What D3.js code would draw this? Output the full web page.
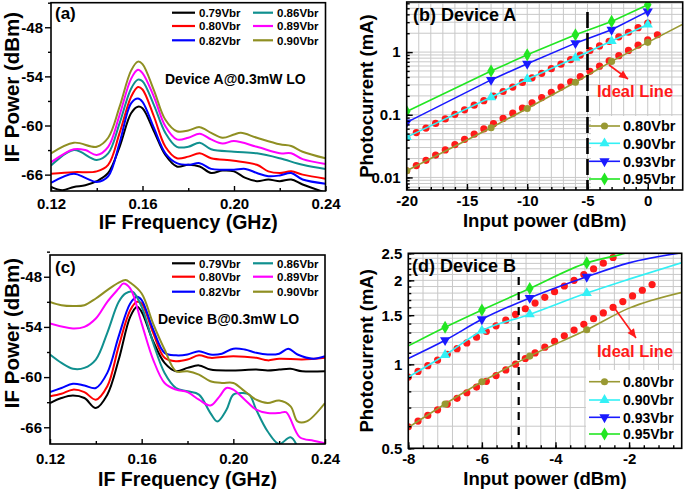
<!DOCTYPE html>
<html><head><meta charset="utf-8">
<script src="https://cdn.jsdelivr.net/npm/d3@7"></script>
<style>
body{margin:0;background:#fff}
svg{display:block;font-family:"Liberation Sans",Arial,Helvetica,sans-serif;font-weight:bold}
</style></head>
<body><svg id="c" width="685" height="489"></svg>
<script>
// ---------------- DATA ----------------
const ifLabels = ["0.79Vbr","0.80Vbr","0.82Vbr","0.86Vbr","0.89Vbr","0.90Vbr"];
const ifColors = ["#000000","#ff0000","#0000ff","#10908f","#ff00ff","#8f8f22"];
const ifXTicks = [0.12,0.16,0.20,0.24];
const ifXMinor = [0.14,0.18,0.22];
const ifYTicks = [-48,-54,-60,-66];
const ifYMinor = [-45,-51,-57,-63];

// Panel (a) – Device A  [freq GHz, IF power dBm]
const a079 = [[0.12,-67.5],[0.125,-67.9],[0.13,-67.5],[0.135,-67.3],[0.14,-66.8],[0.145,-65.8],[0.15,-62.6],[0.155,-58.5],[0.158,-57.7],[0.16,-57.9],[0.165,-60.7],[0.17,-63.6],[0.175,-65.0],[0.18,-64.8],[0.185,-65.0],[0.19,-65.8],[0.195,-65.5],[0.2,-65.6],[0.205,-66.4],[0.21,-66.8],[0.215,-66.6],[0.22,-66.8],[0.225,-66.6],[0.23,-67.2],[0.24,-68.2]];
const a080 = [[0.12,-65.9],[0.13,-65.7],[0.14,-65.6],[0.145,-64.8],[0.15,-60.9],[0.155,-56.5],[0.158,-55.3],[0.16,-55.6],[0.165,-58.9],[0.17,-62.6],[0.175,-64.0],[0.18,-63.8],[0.185,-63.4],[0.19,-64.0],[0.2,-64.3],[0.21,-64.8],[0.215,-65.6],[0.22,-65.8],[0.225,-65.6],[0.23,-66.0],[0.24,-66.5]];
const a082 = [[0.12,-67.0],[0.13,-65.9],[0.135,-66.4],[0.14,-66.9],[0.145,-66.2],[0.15,-62.1],[0.155,-57.3],[0.158,-56.7],[0.16,-57.1],[0.165,-60.3],[0.17,-63.4],[0.175,-64.6],[0.18,-64.8],[0.185,-64.6],[0.19,-65.3],[0.195,-65.4],[0.2,-65.4],[0.205,-65.3],[0.21,-65.8],[0.215,-66.2],[0.22,-66.1],[0.225,-65.8],[0.23,-66.6],[0.24,-67.1]];
const a086 = [[0.12,-64.9],[0.13,-63.0],[0.14,-64.2],[0.145,-63.4],[0.15,-59.7],[0.155,-55.5],[0.158,-54.4],[0.16,-54.6],[0.165,-57.5],[0.17,-60.9],[0.175,-62.6],[0.18,-62.6],[0.185,-62.1],[0.19,-62.9],[0.2,-63.2],[0.21,-63.4],[0.22,-64.0],[0.23,-64.8],[0.24,-65.3]];
const a089 = [[0.12,-64.5],[0.13,-62.9],[0.135,-63.0],[0.14,-63.6],[0.145,-62.6],[0.15,-58.7],[0.155,-54.3],[0.158,-53.2],[0.16,-53.6],[0.165,-56.5],[0.17,-60.1],[0.175,-61.7],[0.18,-61.5],[0.185,-61.0],[0.19,-61.7],[0.195,-62.2],[0.2,-61.9],[0.21,-62.6],[0.22,-63.4],[0.225,-63.4],[0.23,-64.1],[0.24,-64.7]];
const a090 = [[0.12,-63.4],[0.13,-62.1],[0.14,-62.6],[0.145,-61.5],[0.15,-57.7],[0.155,-53.3],[0.158,-52.2],[0.16,-52.5],[0.165,-55.7],[0.17,-59.3],[0.175,-60.7],[0.18,-60.6],[0.185,-60.2],[0.19,-60.9],[0.195,-61.5],[0.2,-61.1],[0.203,-60.9],[0.21,-61.5],[0.22,-62.3],[0.225,-62.5],[0.23,-63.2],[0.24,-64.0]];

// Panel (c) – Device B
const c079 = [[0.12,-63.1],[0.125,-62.5],[0.13,-62.2],[0.135,-62.5],[0.14,-63.7],[0.145,-62.1],[0.15,-57.9],[0.155,-52.8],[0.158,-51.6],[0.16,-52.2],[0.165,-55.7],[0.17,-58.3],[0.175,-59.3],[0.18,-58.9],[0.185,-58.6],[0.19,-59.1],[0.2,-59.2],[0.21,-59.1],[0.215,-59.2],[0.22,-59.1],[0.225,-59.0],[0.23,-59.3],[0.24,-59.3]];
const c080 = [[0.12,-62.3],[0.125,-62.0],[0.13,-61.5],[0.135,-61.8],[0.14,-62.7],[0.145,-61.1],[0.15,-56.3],[0.155,-52.0],[0.158,-51.0],[0.16,-51.2],[0.165,-54.7],[0.17,-57.7],[0.175,-58.1],[0.18,-57.9],[0.185,-57.4],[0.19,-57.7],[0.2,-57.5],[0.21,-57.7],[0.215,-58.0],[0.22,-57.8],[0.23,-57.9],[0.24,-57.7]];
const c082 = [[0.12,-61.8],[0.125,-61.3],[0.13,-60.8],[0.135,-61.0],[0.14,-61.3],[0.145,-59.5],[0.15,-55.1],[0.155,-51.2],[0.158,-50.4],[0.16,-50.8],[0.165,-54.3],[0.17,-57.1],[0.175,-57.4],[0.18,-57.3],[0.185,-56.9],[0.19,-57.3],[0.195,-57.2],[0.2,-56.6],[0.205,-56.7],[0.21,-57.1],[0.215,-57.3],[0.22,-57.2],[0.224,-56.6],[0.228,-57.3],[0.235,-57.8],[0.24,-57.5]];
const c086 = [[0.12,-57.3],[0.125,-58.3],[0.13,-59.0],[0.135,-58.9],[0.14,-57.9],[0.145,-54.7],[0.15,-51.0],[0.153,-50.0],[0.156,-49.8],[0.16,-51.6],[0.165,-55.9],[0.17,-59.5],[0.175,-61.3],[0.18,-61.7],[0.185,-62.1],[0.19,-64.3],[0.193,-65.3],[0.197,-63.9],[0.2,-62.1],[0.204,-61.9],[0.207,-62.1],[0.21,-63.9],[0.215,-66.5],[0.22,-68.0],[0.225,-67.2],[0.23,-69.0],[0.24,-70.0]];
const c089 = [[0.12,-53.6],[0.13,-54.2],[0.135,-54.0],[0.14,-53.0],[0.145,-51.0],[0.15,-49.4],[0.152,-48.8],[0.155,-49.4],[0.16,-53.6],[0.165,-57.9],[0.17,-60.7],[0.175,-61.5],[0.18,-61.8],[0.185,-62.7],[0.19,-63.4],[0.194,-62.3],[0.197,-61.3],[0.2,-61.5],[0.205,-62.7],[0.21,-63.9],[0.215,-64.3],[0.22,-64.3],[0.223,-64.2],[0.229,-67.2],[0.235,-67.6],[0.24,-67.9]];
const c090 = [[0.12,-51.0],[0.125,-51.4],[0.13,-51.5],[0.135,-51.4],[0.14,-50.6],[0.145,-49.6],[0.15,-48.7],[0.153,-48.4],[0.155,-48.7],[0.16,-50.0],[0.165,-53.6],[0.17,-56.7],[0.175,-59.3],[0.18,-59.3],[0.185,-59.7],[0.19,-60.5],[0.195,-60.7],[0.2,-60.7],[0.205,-61.7],[0.21,-62.7],[0.215,-63.1],[0.22,-62.8],[0.225,-63.5],[0.228,-65.3],[0.232,-65.3],[0.24,-63.1]];

// Photocurrent panels
const pcLabels = ["0.80Vbr","0.90Vbr","0.93Vbr","0.95Vbr"];
const pcColors = ["#999933","#33f0f5","#1a1aff","#22e622"];
const pcSymbols = ["circle","up","down","diamond"];
const idealColor = "#ff1a1a";

// Panel (b) – Device A  (input power dBm, photocurrent mA)
const bX    = [-20,-13,-10,-6,-3,0];
const b080X = [-20,-13,-10,-6,-3,0,3];
const b080  = [0.0128,0.062,0.126,0.33,0.71,1.43,2.85];
const b090  = [0.044,0.19,0.37,0.81,1.5,2.75];
const b093  = [0.0755,0.36,0.65,1.39,2.27,4.46];
const b095  = [0.113,0.50,0.905,1.89,3.09,5.69];
const bIdealUpX = [-20,-19.2,-18.4,-17.6,-16.8,-16,-15.2,-14.4,-13.6,-12.8,-12,-11.2,-10.4,-9.6,-8.8,-8,-7.2,-6.4,-5.6,-4.8,-4,-3.2,-2.4,-1.6,-0.8,0];
const bIdealUp  = [0.0439,0.0519,0.0614,0.0726,0.0859,0.1015,0.120,0.142,0.168,0.198,0.235,0.277,0.328,0.388,0.459,0.543,0.642,0.759,0.897,1.061,1.254,1.483,1.754,2.074,2.453,2.901];
const bIdealLoX = [-20,-19.2,-18.4,-17.6,-16.8,-16,-15.2,-14.4,-13.6,-12.8,-12,-11.2,-10.4,-9.6,-8.8,-8,-7.2,-6.4,-5.6,-4.8,-4,-3.2,-2.4,-1.6,-0.8,0,0.8];
const bIdealLo  = [0.01277,0.01547,0.01875,0.0227,0.0275,0.0334,0.0405,0.0490,0.0594,0.0720,0.0873,0.1058,0.128,0.155,0.188,0.228,0.277,0.335,0.406,0.493,0.597,0.724,0.877,1.063,1.288,1.561,1.892];
const bXTicks = [-20,-15,-10,-5,0];
const bYTicks = [0.01,0.1,1];

// Panel (d) – Device B
const dX     = [-8,-7,-6,-4.7,-3.15,-2,-0.5];
const dMarked= [false,true,true,true,true,false,false];
const d080   = [0.594,0.721,0.866,1.07,1.33,1.59,1.82];
const d090   = [0.90,1.08,1.32,1.51,1.80,2.02,2.33];
const d093   = [1.05,1.22,1.45,1.73,2.06,2.31,2.52];
const d095   = [1.164,1.358,1.566,1.87,2.31,2.52,2.95];
const dIdealX  = [-8,-7.735,-7.47,-7.205,-6.94,-6.675,-6.41,-6.145,-5.88,-5.615,-5.35,-5.085,-4.82,-4.555,-4.29,-4.025,-3.76,-3.495,-3.23,-2.965,-2.7,-2.435,-2.17,-1.905,-1.64,-1.375];
const dIdealLo = [0.597,0.626,0.656,0.687,0.720,0.755,0.791,0.829,0.869,0.911,0.955,1.001,1.049,1.099,1.152,1.208,1.266,1.327,1.391,1.457,1.528,1.601,1.678,1.759,1.843,1.932];
const dIdealUp = [0.900,0.943,0.989,1.036,1.086,1.138,1.193,1.251,1.311,1.374,1.440,1.509,1.582,1.658,1.738,1.821,1.909,2.001,2.097,2.198,2.304,2.415];
const dXTicks = [-8,-6,-4,-2];
const dYTicks = [0.5,1,1.5,2,2.5];

// ---------------- DRAW ----------------
const svg = d3.select("#c");
let clipN = 0;
function clip(x0,y0,x1,y1){
  const id = "clp"+(clipN++);
  svg.append("clipPath").attr("id",id).append("rect")
    .attr("x",x0).attr("y",y0).attr("width",x1-x0).attr("height",y1-y0);
  return "url(#"+id+")";
}
function styleAxis(g, fs){
  g.select(".domain").remove();
  g.selectAll("line").attr("stroke","#000").attr("stroke-width",1.4);
  g.selectAll("text").attr("fill","#000").attr("font-size",fs).attr("font-weight","bold")
   .attr("font-family","Liberation Sans, Arial, sans-serif");
}
function frame(x0,y0,x1,y1){
  svg.append("rect").attr("x",x0).attr("y",y0).attr("width",x1-x0).attr("height",y1-y0)
    .attr("fill","none").attr("stroke","#000").attr("stroke-width",1.6);
}
function txt(x,y,s,fs,opt={}){
  const t = svg.append("text").attr("x",x).attr("y",y).text(s).attr("font-size",fs)
    .attr("fill",opt.fill||"#000");
  if(opt.anchor) t.attr("text-anchor",opt.anchor);
  if(opt.rot) t.attr("transform",`rotate(-90,${x},${y})`);
  return t;
}

function ifPanel(o){
  const x = d3.scaleLinear().domain([0.12,0.24]).range([o.l,o.r]);
  const y = d3.scaleLinear().domain(o.ydom).range([o.b,o.t]);
  const cp = clip(o.l,o.t,o.r,o.b);
  const line = d3.line().x(d=>x(d[0])).y(d=>y(d[1])).curve(d3.curveCatmullRom.alpha(0.5));
  const gL = svg.append("g").attr("clip-path",cp);
  o.series.forEach((s,i)=>{
    gL.append("path").attr("d",line(s)).attr("fill","none")
      .attr("stroke",ifColors[i]).attr("stroke-width",2).attr("stroke-linejoin","round");
  });
  svg.append("g").attr("transform",`translate(0,${o.b})`)
    .call(d3.axisBottom(x).tickValues(ifXTicks).tickSize(-5).tickPadding(o.xpad).tickFormat(d3.format(".2f")))
    .call(g=>styleAxis(g,15));
  svg.append("g").attr("transform",`translate(0,${o.b})`)
    .call(d3.axisBottom(x).tickValues(ifXMinor).tickSize(-3).tickFormat(""))
    .call(g=>styleAxis(g,15));
  svg.append("g").attr("transform",`translate(${o.l},0)`)
    .call(d3.axisLeft(y).tickValues(ifYTicks).tickSize(6).tickPadding(2).tickFormat(d=>String(d)))
    .call(g=>styleAxis(g,15));
  svg.append("g").attr("transform",`translate(${o.l},0)`)
    .call(d3.axisLeft(y).tickValues(ifYMinor).tickSize(3).tickFormat(""))
    .call(g=>styleAxis(g,15));
  frame(o.l,o.t,o.r,o.b);
  // legend
  ifLabels.forEach((lab,i)=>{
    const col = Math.floor(i/3), row = i%3;
    const ly = o.legY[row];
    const lx0 = col? 253:172, lx1 = col? 273:195, tx = col? 277:199;
    svg.append("line").attr("x1",lx0).attr("x2",lx1).attr("y1",ly).attr("y2",ly)
      .attr("stroke",ifColors[i]).attr("stroke-width",2.2);
    txt(tx,ly+4.2,lab,11.5);
  });
  txt(55,o.tagY,o.tag,17);
  txt(o.devX,o.devY,o.dev,14);
  txt((o.l+o.r)/2,o.xtY,"IF Frequency (GHz)",19.5,{anchor:"middle"});
  txt(19,o.ytC,"IF Power (dBm)",20.5,{anchor:"middle",rot:true});
}

ifPanel({l:51,r:325.5,t:2.7,b:191,ydom:[-68,-45],series:[a079,a080,a082,a086,a089,a090],
  xpad:7.5,legY:[12.7,26,40.3],tag:"(a)",tagY:19,dev:"Device A@0.3mW LO",devX:165,devY:84,xtY:229,ytC:87});
ifPanel({l:50,r:325,t:255,b:444,ydom:[-68,-45.4],series:[c079,c080,c082,c086,c089,c090],
  xpad:9,legY:[263.3,276.7,291.7],tag:"(c)",tagY:273,dev:"Device B@0.3mW LO",devX:158,devY:324,xtY:486,ytC:333});

function sym(type){
  if(type==="circle") return d3.symbol().type(d3.symbolCircle).size(40)();
  if(type==="diamond") return d3.symbol().type(d3.symbolDiamond).size(50)();
  return d3.symbol().type(d3.symbolTriangle).size(45)();
}
function drawMarker(g,px,py,type,color){
  g.append("path").attr("d",sym(type)).attr("fill",color)
    .attr("transform",`translate(${px},${py})`+(type==="down"?" rotate(180)":""));
}

function pcPanel(o){
  const x = d3.scaleLinear().domain(o.xdom).range([o.l,o.r]);
  const y = d3.scaleLog().domain(o.ydom).range([o.b,o.t]);
  // grid
  const gg = svg.append("g");
  o.xGrid.forEach(v=>{ gg.append("line").attr("x1",x(v)).attr("x2",x(v)).attr("y1",o.t).attr("y2",o.b)
      .attr("stroke","#c8c8c8").attr("stroke-width",1); });
  o.yGrid.forEach(v=>{ gg.append("line").attr("x1",o.l).attr("x2",o.r).attr("y1",y(v)).attr("y2",y(v))
      .attr("stroke","#c8c8c8").attr("stroke-width",1); });
  const cp = clip(o.l,o.t,o.r,o.b);
  const gD = svg.append("g").attr("clip-path",cp);
  // ideal dots
  o.ideal.forEach(([xs,ys])=>{
    xs.forEach((v,i)=>{ gD.append("circle").attr("cx",x(v)).attr("cy",y(ys[i])).attr("r",3.6).attr("fill",idealColor); });
  });
  // series
  const line = d3.line().x(d=>x(d[0])).y(d=>y(d[1])).curve(o.curve);
  o.series.forEach((s,k)=>{
    const pts = s.x.map((v,i)=>[v,s.y[i]]);
    gD.append("path").attr("d",line(pts)).attr("fill","none").attr("stroke",pcColors[k]).attr("stroke-width",1.6);
    pts.forEach((p,i)=>{ if(s.mark(i,p[0])) drawMarker(gD,x(p[0]),y(p[1]),pcSymbols[k],pcColors[k]); });
  });
  // legend background
  svg.append("rect").attr("x",o.legBox[0]).attr("y",o.legBox[1]).attr("width",o.legBox[2]).attr("height",o.legBox[3]).attr("fill","#fff");
  // dashed line
  svg.append("line").attr("x1",x(-5)).attr("x2",x(-5)).attr("y1",o.dashTop).attr("y2",o.b)
    .attr("stroke","#000").attr("stroke-width",o.dashW).attr("stroke-dasharray",o.dash);
  // legend
  pcLabels.forEach((lab,k)=>{
    const ly = o.legY[k];
    svg.append("line").attr("x1",589).attr("x2",620).attr("y1",ly).attr("y2",ly).attr("stroke",pcColors[k]).attr("stroke-width",1.6);
    drawMarker(svg,604.5,ly,pcSymbols[k],pcColors[k]);
    txt(623,ly+5.2,lab,o.legFs);
  });
  // axes
  svg.append("g").attr("transform",`translate(0,${o.b})`)
    .call(d3.axisBottom(x).tickValues(o.xGrid).tickSize(-3).tickFormat("")).call(g=>styleAxis(g,15));
  svg.append("g").attr("transform",`translate(0,${o.b})`)
    .call(d3.axisBottom(x).tickValues(o.xTicks).tickSize(-6).tickPadding(o.xpad).tickFormat(d=>String(d))).call(g=>styleAxis(g,15));
  svg.append("g").attr("transform",`translate(${o.l},0)`)
    .call(d3.axisLeft(y).tickValues(o.yGrid).tickSize(-3).tickFormat("")).call(g=>styleAxis(g,15));
  svg.append("g").attr("transform",`translate(${o.l},0)`)
    .call(d3.axisLeft(y).tickValues(o.yTicks).tickSize(-6).tickPadding(6).tickFormat(d=>String(d))).call(g=>styleAxis(g,15));
  frame(o.l,o.t,o.r,o.b);
  // annotation
  txt(o.tagX,o.tagY,o.tag,18);
  txt(597,o.idealY,"Ideal Line",16.5,{fill:idealColor});
  const [ax1,ay1,ax2,ay2] = o.arrow;
  svg.append("line").attr("x1",ax1).attr("y1",ay1).attr("x2",ax2).attr("y2",ay2).attr("stroke",idealColor).attr("stroke-width",1.6);
  const ang = Math.atan2(ay2-ay1,ax2-ax1)*180/Math.PI;
  svg.append("path").attr("d","M0,0L-9,-4L-9,4Z").attr("fill",idealColor)
    .attr("transform",`translate(${ax2},${ay2}) rotate(${ang})`);
  txt((o.l+o.r)/2,o.xtY,"Input power (dBm)",18.5,{anchor:"middle"});
  txt(373,(o.t+o.b)/2,"Photocurrent (mA)",18.5,{anchor:"middle",rot:true});
}

// grids / minor ticks
const bXGrid = d3.range(-20,3,1);
const bYGrid = [];
[0.001,0.01,0.1,1].forEach(dec=>{ for(let m=1;m<=9;m++){ const v=+(dec*m).toPrecision(3); if(v>=0.0064&&v<=6.3) bYGrid.push(v);} });
const dXGrid = d3.range(0,19).map(i=>+(-8+0.4*i).toFixed(2));
const dYGrid = d3.range(5,26).map(i=>i/10);

pcPanel({l:406.7,r:682.7,t:2,b:190,xdom:[-20,2.9],ydom:[0.0063,6.3],
  xGrid:bXGrid,yGrid:bYGrid,xTicks:bXTicks,yTicks:bYTicks,xpad:5,curve:d3.curveLinear,
  ideal:[[bIdealUpX,bIdealUp],[bIdealLoX,bIdealLo]],
  series:[{x:b080X,y:b080,mark:(i,v)=>v<=0},{x:bX,y:b090,mark:()=>true},{x:bX,y:b093,mark:()=>true},{x:bX,y:b095,mark:()=>true}],
  legBox:[591,116,91,73],legY:[126,143.3,161.3,179],legFs:14.5,dashTop:12,dashW:2.6,dash:"16,5",
  tag:"(b) Device A",tagX:413,tagY:20.5,idealY:97,arrow:[609,65,628,79],xtY:227});

pcPanel({l:408.3,r:681.7,t:253.3,b:448.3,xdom:[-8,-0.57],ydom:[0.5,2.5],
  xGrid:dXGrid,yGrid:dYGrid,xTicks:dXTicks,yTicks:dYTicks,xpad:5,curve:d3.curveMonotoneX,
  ideal:[[dIdealX,dIdealLo],[dIdealX.slice(0,dIdealUp.length),dIdealUp]],
  series:[{x:dX,y:d080,mark:i=>dMarked[i]},{x:dX,y:d090,mark:i=>dMarked[i]},{x:dX,y:d093,mark:i=>dMarked[i]},{x:dX,y:d095,mark:i=>dMarked[i]}],
  legBox:[586,370,95,77],legY:[381.7,400,417.3,434],legFs:14,dashTop:277,dashW:2.2,dash:"8,7",
  tag:"(d) Device B",tagX:412,tagY:272,idealY:357,arrow:[613,306,636,338],xtY:485});
</script></body></html>
